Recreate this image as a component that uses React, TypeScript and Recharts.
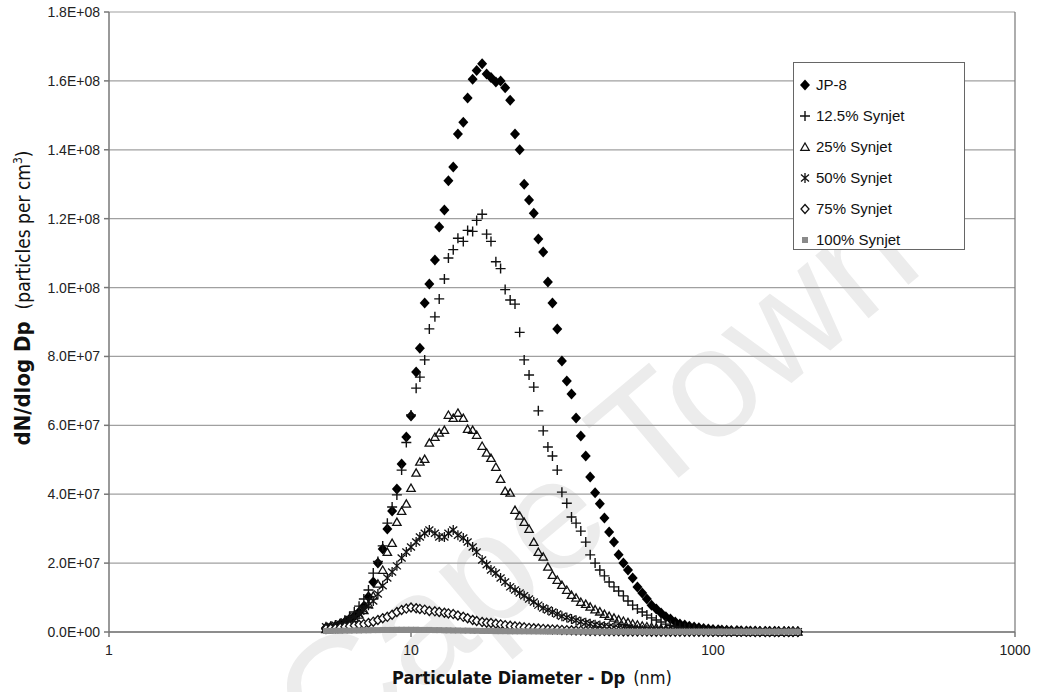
import { ScatterChart, Scatter, XAxis, YAxis, CartesianGrid, ReferenceLine } from "recharts";

// SMPS channel midpoints (nm)
const diameters = [
  5.23, 5.42, 5.62, 5.83, 6.04, 6.26, 6.49, 6.73, 6.98, 7.23,
  7.5, 7.77, 8.06, 8.35, 8.66, 8.98, 9.31, 9.65, 10.0, 10.4,
  10.7, 11.1, 11.5, 12.0, 12.4, 12.9, 13.3, 13.8, 14.3, 14.9,
  15.4, 16.0, 16.5, 17.2, 17.8, 18.4, 19.1, 19.8, 20.5, 21.3,
  22.1, 22.9, 23.7, 24.6, 25.5, 26.4, 27.4, 28.4, 29.4, 30.5,
  31.6, 32.8, 34.0, 35.2, 36.5, 37.9, 39.2, 40.7, 42.2, 43.7,
  45.3, 47.0, 48.7, 50.5, 52.3, 54.2, 56.2, 58.3, 60.4, 62.6,
  64.9, 67.3, 69.8, 72.3, 75.0, 77.7, 80.6, 83.5, 86.6, 89.8,
  93.1, 96.5, 100, 104, 107, 111, 115, 120, 124, 129,
  133, 138, 143, 149, 154, 160, 165, 172, 178, 184,
  191,
];

// dN/dlogDp, millions of particles per cm3
const jp8 = [
  1.2, 1.45, 1.7, 2.3, 2.9, 3.8, 4.6, 5.8, 7.5, 10.2,
  14.5, 20.0, 24.1, 29.9, 35.1, 41.5, 48.8, 56.6, 62.7, 75.5,
  82.4, 95.5, 101, 108, 117.6, 122.5, 131, 135, 144.6, 148,
  155, 160.5, 163, 165, 162, 161, 159.7, 160, 158, 154.4,
  144.6, 140, 130, 125.4, 121.6, 114.1, 110.3, 101.6, 95.5, 88.0,
  78.7, 72.9, 69.1, 62.1, 56.9, 51.1, 45.0, 40.4, 37.2, 33.1,
  29.0, 26.1, 22.4, 20.0, 18.0, 15.7, 13.1, 11.3, 9.6, 7.8,
  6.7, 5.5, 4.4, 3.8, 2.9, 2.3, 2.0, 1.7, 1.45, 1.2,
  1.0, 0.85, 0.75, 0.65, 0.55, 0.5, 0.45, 0.4, 0.35, 0.32,
  0.3, 0.28, 0.25, 0.23, 0.2, 0.2, 0.18, 0.17, 0.16, 0.15,
  0.15,
];

const synjet12 = [
  1.0, 1.3, 1.8, 2.5, 3.4, 4.5, 5.8, 7.5, 9.6, 12.2,
  17.1, 20.5, 25.0, 31.6, 36.3, 39.8, 47, 55, 63, 70.8,
  74, 79, 88, 91.5, 96.7, 102.5, 108.6, 111, 114.3, 113.4,
  116.6, 116.3, 119.5, 121.3, 115.5, 113.4, 107.5, 105.5, 99.4, 96.4,
  95.2, 87, 79, 74.6, 71.1, 64.2, 58.4, 53.7, 51.1, 47.0,
  40.6, 37.4, 33.4, 31.6, 29.3, 26.1, 22.4, 20.0, 18.0, 16.3,
  14.5, 13.1, 11.9, 10.5, 9.0, 7.8, 6.7, 5.8, 4.9, 4.1,
  3.5, 2.9, 2.3, 1.9, 1.6, 1.3, 1.1, 0.9, 0.75, 0.6,
  0.5, 0.45, 0.4, 0.35, 0.3, 0.27, 0.25, 0.22, 0.2, 0.18,
  0.17, 0.16, 0.15, 0.14, 0.13, 0.12, 0.12, 0.11, 0.1, 0.1,
  0.1,
];

const synjet25 = [
  0.8, 1.0, 1.4, 1.9, 2.5, 3.2, 4.0, 5.0, 6.3, 8.0,
  10.5, 14.0, 18.0, 23.2, 25.8, 31.9, 35.1, 37.2, 41.8, 46.2,
  49.4, 50.2, 54.9, 56.6, 57.8, 58.6, 63.0, 62.1, 63.6, 62.1,
  58.9, 58.6, 57.2, 54.0, 52.0, 50.5, 47.9, 44.4, 40.9, 40.4,
  35.4, 33.7, 31.9, 29.9, 26.1, 23.2, 21.8, 18.9, 16.5, 15.1,
  13.6, 12.2, 10.7, 9.9, 8.7, 8.1, 7.3, 6.5, 5.9, 5.2,
  4.6, 4.1, 3.6, 3.2, 2.8, 2.4, 2.1, 1.8, 1.6, 1.4,
  1.2, 1.0, 0.85, 0.7, 0.6, 0.5, 0.45, 0.4, 0.35, 0.3,
  0.27, 0.24, 0.22, 0.2, 0.18, 0.16, 0.15, 0.14, 0.13, 0.12,
  0.11, 0.1, 0.1, 0.09, 0.09, 0.08, 0.08, 0.08, 0.07, 0.07,
  0.07,
];

const synjet50 = [
  1.5, 1.7, 2.0, 2.3, 2.9, 3.5, 4.4, 5.2, 6.4, 7.8,
  9.0, 11.0, 13.4, 15.7, 17.4, 19.2, 21.5, 23.2, 24.7, 26.1,
  27.6, 28.7, 29.6, 28.7, 27.6, 27.6, 28.7, 29.6, 28.1, 27.3,
  26.1, 24.7, 23.2, 20.9, 19.5, 18.0, 17.1, 15.7, 14.5, 13.1,
  12.2, 11.3, 10.5, 9.6, 8.7, 7.8, 7.0, 6.4, 5.8, 5.2,
  4.6, 4.2, 3.8, 3.4, 3.0, 2.7, 2.4, 2.1, 1.9, 1.7,
  1.5, 1.3, 1.15, 1.0, 0.9, 0.8, 0.7, 0.6, 0.55, 0.5,
  0.45, 0.4, 0.36, 0.32, 0.29, 0.26, 0.24, 0.22, 0.2, 0.18,
  0.16, 0.15, 0.14, 0.13, 0.12, 0.11, 0.1, 0.1, 0.09, 0.09,
  0.08, 0.08, 0.07, 0.07, 0.07, 0.06, 0.06, 0.06, 0.05, 0.05,
  0.05,
];

const synjet75 = [
  0.9, 1.0, 1.1, 1.3, 1.5, 1.7, 1.9, 2.1, 2.3, 2.6,
  3.0, 3.5, 4.0, 4.4, 5.0, 5.8, 6.4, 6.8, 7.1, 6.9,
  6.7, 6.5, 6.1, 6.0, 5.8, 5.6, 5.4, 5.2, 4.8, 4.4,
  4.0, 3.5, 3.2, 2.9, 2.7, 2.6, 2.4, 2.2, 2.0, 1.8,
  1.65, 1.5, 1.35, 1.2, 1.1, 1.0, 0.9, 0.8, 0.75, 0.7,
  0.6, 0.55, 0.5, 0.45, 0.4, 0.35, 0.32, 0.3, 0.27, 0.25,
  0.22, 0.2, 0.18, 0.16, 0.15, 0.14, 0.13, 0.12, 0.11, 0.1,
  0.1, 0.09, 0.09, 0.08, 0.08, 0.07, 0.07, 0.07, 0.06, 0.06,
  0.06, 0.05, 0.05, 0.05, 0.05, 0.04, 0.04, 0.04, 0.04, 0.04,
  0.04, 0.03, 0.03, 0.03, 0.03, 0.03, 0.03, 0.03, 0.03, 0.03,
  0.03,
];

const synjet100 = [
  0.3, 0.3, 0.35, 0.35, 0.4, 0.4, 0.45, 0.45, 0.5, 0.5,
  0.55, 0.55, 0.6, 0.6, 0.6, 0.65, 0.65, 0.65, 0.65, 0.65,
  0.6, 0.6, 0.6, 0.55, 0.55, 0.5, 0.5, 0.45, 0.45, 0.4,
  0.4, 0.35, 0.35, 0.3, 0.3, 0.3, 0.25, 0.25, 0.25, 0.2,
  0.2, 0.2, 0.2, 0.18, 0.18, 0.16, 0.16, 0.15, 0.15, 0.14,
  0.14, 0.13, 0.13, 0.12, 0.12, 0.11, 0.11, 0.1, 0.1, 0.1,
  0.1, 0.1, 0.1, 0.1, 0.1, 0.1, 0.1, 0.1, 0.1, 0.1,
  0.1, 0.1, 0.1, 0.1, 0.1, 0.1, 0.1, 0.1, 0.1, 0.1,
  0.1, 0.1, 0.1, 0.1, 0.1, 0.1, 0.1, 0.1, 0.1, 0.1,
  0.1, 0.1, 0.1, 0.1, 0.1, 0.1, 0.1, 0.1, 0.1, 0.1,
  0.1,
];

const xTicks = [1, 10, 100, 1000];
const yTicks = [0, 2e7, 4e7, 6e7, 8e7, 1e8, 1.2e8, 1.4e8, 1.6e8, 1.8e8];

const toPoints = (vals: number[]) => diameters.map((d, i) => ({ x: d, y: vals[i] * 1e6 }));

const fmtSci = (v: number) =>
  v.toExponential(1).replace("e+", "E+").replace(/E\+(\d)$/, "E+0$1");

// marker shapes
const FilledDiamond = ({ cx, cy }: any) => (
  <path d={`M${cx},${cy - 5.5}L${cx + 5},${cy}L${cx},${cy + 5.5}L${cx - 5},${cy}Z`} fill="#000" />
);
const Plus = ({ cx, cy }: any) => (
  <path d={`M${cx - 5},${cy}H${cx + 5}M${cx},${cy - 5}V${cy + 5}`} stroke="#111" strokeWidth={1.4} fill="none" />
);
const Triangle = ({ cx, cy }: any) => (
  <path d={`M${cx},${cy - 4}L${cx + 4.2},${cy + 3.3}L${cx - 4.2},${cy + 3.3}Z`} stroke="#111" strokeWidth={1.3} fill="none" />
);
const Star = ({ cx, cy }: any) => (
  <path
    d={`M${cx - 4},${cy - 3.5}L${cx + 4},${cy + 3.5}M${cx + 4},${cy - 3.5}L${cx - 4},${cy + 3.5}M${cx},${cy - 5}V${cy + 5}`}
    stroke="#111"
    strokeWidth={1.3}
    fill="none"
  />
);
const OpenDiamond = ({ cx, cy }: any) => (
  <path d={`M${cx},${cy - 4.5}L${cx + 4},${cy}L${cx},${cy + 4.5}L${cx - 4},${cy}Z`} stroke="#111" strokeWidth={1.3} fill="#fff" />
);
const Square = ({ cx, cy }: any) => (
  <rect x={cx - 3} y={cy - 3} width={6} height={6} fill="#8a8a8a" />
);

const series = [
  { name: "JP-8", values: jp8, shape: FilledDiamond },
  { name: "12.5% Synjet", values: synjet12, shape: Plus },
  { name: "25% Synjet", values: synjet25, shape: Triangle },
  { name: "50% Synjet", values: synjet50, shape: Star },
  { name: "75% Synjet", values: synjet75, shape: OpenDiamond },
  { name: "100% Synjet", values: synjet100, shape: Square },
];

const narrow = '"Liberation Sans Narrow", "DejaVu Sans Condensed", "Liberation Sans", sans-serif';
const plain = '"Liberation Sans", Arial, sans-serif';

const YTitle = () => (
  <text transform="rotate(-90, 30, 298)" x={30} y={298} textAnchor="middle" fontFamily={narrow} fontSize={22} fill="#111">
    <tspan fontWeight="bold">dN/dlog Dp</tspan>
    <tspan dx={12} fontSize={19}>(particles per cm</tspan>
    <tspan fontSize={12} dy={-8}>3</tspan>
    <tspan dy={8} fontSize={19}>)</tspan>
  </text>
);

const XTitle = () => (
  <text x={532} y={684} textAnchor="middle" fontFamily={narrow} fontSize={18} fill="#111">
    <tspan fontWeight="bold">Particulate Diameter - Dp</tspan>
    <tspan dx={8}>(nm)</tspan>
  </text>
);

export default function App() {
  return (
    <div style={{ position: "absolute", left: 0, top: 0, width: 1047, height: 692, background: "#fff", overflow: "hidden" }}>
      <svg width={1047} height={692} style={{ position: "absolute", left: 0, top: 0 }}>
        <text
          x={600}
          y={530}
          transform="rotate(-40, 600, 485)"
          textAnchor="middle"
          fontFamily={plain}
          fontSize={156}
          fill="#ececec"
        >
          Cape Town
        </text>
      </svg>
      <ScatterChart
        width={1047}
        height={692}
        margin={{ top: 12, right: 32, bottom: 0, left: 0 }}
        style={{ position: "absolute", left: 0, top: 0 }}
      >
        <CartesianGrid vertical={false} stroke="#a0a0a0" strokeWidth={1.2} />
        <XAxis
          dataKey="x"
          type="number"
          scale="log"
          domain={[1, 1000]}
          ticks={xTicks}
          allowDataOverflow
          height={60}
          stroke="#777"
          strokeWidth={1.5}
          tickSize={5}
          tickMargin={8}
          tick={{ fill: "#222", fontSize: 14, fontFamily: plain }}
          label={{ content: XTitle }}
        />
        <YAxis
          dataKey="y"
          type="number"
          domain={[0, 1.8e8]}
          ticks={yTicks}
          width={109}
          stroke="#777"
          strokeWidth={1.5}
          tickSize={5}
          tickMargin={4}
          tickFormatter={fmtSci}
          tick={{ fill: "#222", fontSize: 14, fontFamily: plain }}
          label={{ content: YTitle }}
        />
        <ReferenceLine x={1000} stroke="#777" strokeWidth={1.2} />
        {series.map((s) => (
          <Scatter
            key={s.name}
            name={s.name}
            data={toPoints(s.values)}
            shape={s.shape}
            isAnimationActive={false}
          />
        ))}
      </ScatterChart>
      <div
        style={{
          position: "absolute",
          left: 793,
          top: 62,
          width: 172,
          height: 188,
          border: "1px solid #666",
          background: "#fff",
          boxSizing: "border-box",
          paddingTop: 6,
          fontFamily: plain,
          fontSize: 15,
          color: "#111",
        }}
      >
        {series.map((s) => {
          const Shape = s.shape;
          return (
            <div key={s.name} style={{ display: "flex", alignItems: "center", height: 31 }}>
              <svg width={20} height={14} style={{ marginLeft: 1 }}>
                <Shape cx={10} cy={7} />
              </svg>
              <span style={{ marginLeft: 1 }}>{s.name}</span>
            </div>
          );
        })}
      </div>
    </div>
  );
}
